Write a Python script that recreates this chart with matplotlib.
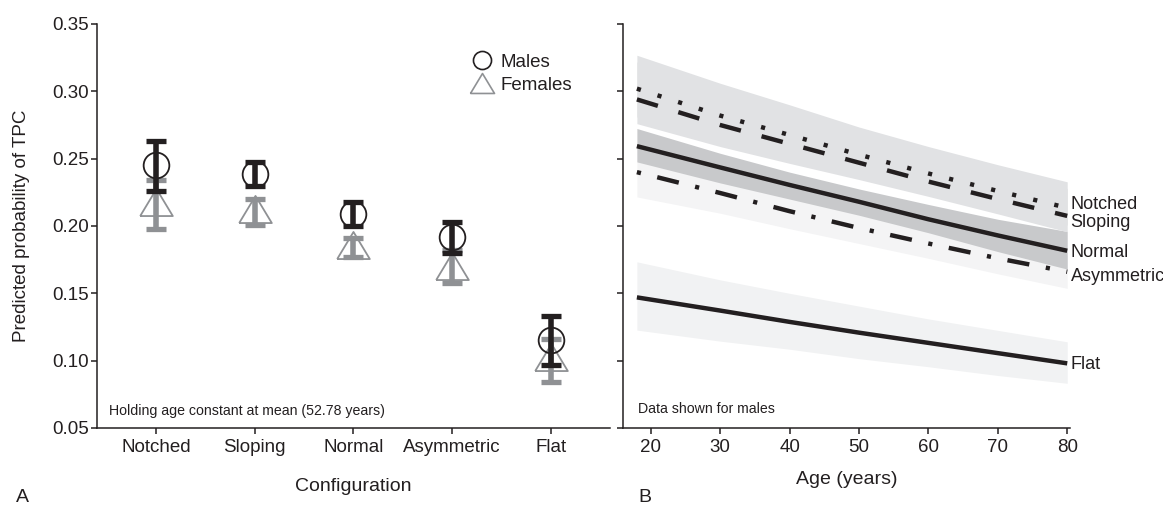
import matplotlib
matplotlib.use("Agg")
import matplotlib.pyplot as plt
from matplotlib.lines import Line2D
import numpy as np

plt.rcParams['font.family'] = ['Liberation Sans', 'DejaVu Sans']
plt.rcParams['lines.scale_dashes'] = False

# ---------------- Panel A data ----------------
configs = ["Notched", "Sloping", "Normal", "Asymmetric", "Flat"]
male_est = [0.245, 0.2385, 0.209, 0.192, 0.1155]
male_lo = [0.226, 0.2298, 0.200, 0.180, 0.097]
male_hi = [0.2633, 0.2476, 0.218, 0.203, 0.1331]
female_est = [0.218, 0.2125, 0.186, 0.170, 0.1025]
female_lo = [0.1979, 0.2009, 0.1771, 0.1578, 0.0841]
female_hi = [0.234, 0.220, 0.1912, 0.182, 0.1158]

# ---------------- Panel B data (males) ----------------
ages = [18, 30, 40, 50, 60, 70, 80]
notched_p = [0.302, 0.282, 0.2676, 0.253, 0.239, 0.226, 0.2135]
notched_hi = [0.3268, 0.306, 0.290, 0.2735, 0.259, 0.2455, 0.2328]
notched_lo = [0.281, 0.264, 0.2515, 0.2395, 0.227, 0.214, 0.2007]
sloping_p = [0.294, 0.275, 0.261, 0.247, 0.233, 0.220, 0.2075]
sloping_hi = [0.3218, 0.301, 0.285, 0.2685, 0.254, 0.2405, 0.2278]
sloping_lo = [0.276, 0.259, 0.2465, 0.2345, 0.222, 0.209, 0.1957]
normal_p = [0.2593, 0.2435, 0.2305, 0.218, 0.205, 0.193, 0.1816]
normal_hi = [0.2724, 0.254, 0.240, 0.2275, 0.216, 0.205, 0.196]
normal_lo = [0.2476, 0.232, 0.220, 0.208, 0.195, 0.181, 0.168]
asym_p = [0.240, 0.2245, 0.211, 0.1985, 0.187, 0.176, 0.166]
asym_hi = [0.2584, 0.241, 0.227, 0.212, 0.199, 0.187, 0.178]
asym_lo = [0.2216, 0.2095, 0.198, 0.187, 0.176, 0.1645, 0.1537]
flat_p = [0.147, 0.1372, 0.1288, 0.1208, 0.1132, 0.1056, 0.098]
flat_hi = [0.1734, 0.160, 0.150, 0.1405, 0.131, 0.1225, 0.114]
flat_lo = [0.1227, 0.1145, 0.1085, 0.1015, 0.0955, 0.089, 0.0832]

yticks = [0.05, 0.10, 0.15, 0.20, 0.25, 0.30, 0.35]
ytick_labels = ["0.05", "0.10", "0.15", "0.20", "0.25", "0.30", "0.35"]
age_ticks = [20, 30, 40, 50, 60, 70, 80]

BLACK = '#231f20'
GRAY = '#8f9194'

W, H = 1163, 505
fig = plt.figure(figsize=(W / 100, H / 100), dpi=100)
axA = fig.add_axes([96.7 / W, 1 - 428 / H, (610 - 96.7) / W, 404 / H])
axB = fig.add_axes([623 / W, 1 - 428 / H, (1070 - 623) / W, 404 / H])

for ax in (axA, axB):
    ax.spines['top'].set_visible(False)
    ax.spines['right'].set_visible(False)
    for s in ('left', 'bottom'):
        ax.spines[s].set_linewidth(1.1)
        ax.spines[s].set_color(BLACK)
    ax.tick_params(direction='out', length=4, width=1.1, color=BLACK,
                   labelsize=13.5, labelcolor=BLACK)
    ax.set_ylim(0.05, 0.35)
    ax.set_yticks(yticks)

# ---------------- Panel A ----------------
x = np.arange(len(configs))
tri = [(-1, -0.83), (1, -0.83), (0, 0.83), (-1, -0.83)]

f_err = [np.array(female_est) - np.array(female_lo), np.array(female_hi) - np.array(female_est)]
m_err = [np.array(male_est) - np.array(male_lo), np.array(male_hi) - np.array(male_est)]

axA.errorbar(x, female_est, yerr=f_err, fmt='none', ecolor=GRAY, elinewidth=4.0,
             capsize=7.2, capthick=3.8, zorder=2)
axA.plot(x, female_est, ls='none', marker=tri, ms=23.5, mfc='none', mec=GRAY,
         mew=1.3, zorder=3)
axA.errorbar(x, male_est, yerr=m_err, fmt='none', ecolor=BLACK, elinewidth=4.0,
             capsize=7.2, capthick=3.8, zorder=4)
axA.plot(x, male_est, ls='none', marker='o', ms=18.5, mfc='none', mec=BLACK,
         mew=1.3, zorder=5)

axA.set_xlim(-0.6, 4.6)
axA.set_xticks(x)
axA.set_xticklabels(configs)
axA.set_yticklabels(ytick_labels)
axA.tick_params(axis='y', pad=1.5)
axA.tick_params(axis='x', pad=4)
axA.set_xlabel("Configuration", fontsize=14, labelpad=15.5, color=BLACK)
axA.set_ylabel("Predicted probability of TPC", fontsize=13.5, labelpad=16, color=BLACK)
axA.text(0.024, 0.042, "Holding age constant at mean (52.78 years)", transform=axA.transAxes,
         fontsize=10.2, va='center', ha='left', color=BLACK)

handles = [Line2D([], [], ls='none', marker='o', ms=13, mfc='none', mec=BLACK, mew=1.2),
           Line2D([], [], ls='none', marker=tri, ms=17.3, mfc='none', mec=GRAY, mew=1.2)]
axA.legend(handles, ["Males", "Females"], loc='center', bbox_to_anchor=(0.83, 0.877),
           frameon=False, fontsize=13.5, handlelength=1.0, handletextpad=0.5,
           labelspacing=0.32, borderpad=0, labelcolor=BLACK)

# ---------------- Panel B ----------------
axB.fill_between(ages, asym_lo, asym_hi, color='#f4f4f5', lw=0, zorder=1)
axB.fill_between(ages, flat_lo, flat_hi, color='#f1f2f3', lw=0, zorder=1)
axB.fill_between(ages, normal_lo, normal_hi, color='#c8c9cb', lw=0, zorder=2)
axB.fill_between(ages, notched_lo, notched_hi, color='#e1e2e4', lw=0, zorder=2)
axB.fill_between(ages, sloping_lo, sloping_hi, color='#e1e2e4', lw=0, zorder=2)

lw = 3.2
axB.plot(ages, notched_p, color=BLACK, lw=lw, dashes=(3.0, 12.6), dash_capstyle='butt', zorder=4)
axB.plot(ages, sloping_p, color=BLACK, lw=lw, dashes=(15.8, 15.4), dash_capstyle='butt', zorder=4)
axB.plot(ages, normal_p, color=BLACK, lw=lw, solid_capstyle='butt', zorder=4)
axB.plot(ages, asym_p, color=BLACK, lw=lw, dashes=(3.0, 12.1, 16, 12.1), dash_capstyle='butt', zorder=4)
axB.plot(ages, flat_p, color=BLACK, lw=lw, solid_capstyle='butt', zorder=4)

series_end = {"Notched": notched_p[-1], "Sloping": sloping_p[-1], "Normal": normal_p[-1],
              "Asymmetric": asym_p[-1], "Flat": flat_p[-1]}
nudge = {"Notched": 0.0033, "Sloping": -0.0036, "Normal": 0.0, "Asymmetric": -0.002, "Flat": 0.0}
for name, yend in series_end.items():
    axB.text(ages[-1] + 0.5, yend - 0.0045 + nudge[name], name, fontsize=13, va='baseline',
             ha='left', color=BLACK, clip_on=False)

axB.set_xlim(16, 80.4)
axB.set_xticks(age_ticks)
axB.set_yticklabels([])
axB.tick_params(axis='x', pad=4)
axB.set_xlabel("Age (years)", fontsize=14, labelpad=11, color=BLACK)
axB.text(0.034, 0.047, "Data shown for males", transform=axB.transAxes,
         fontsize=10.2, va='center', ha='left', color=BLACK)

fig.text(16 / W, 1 - 502 / H, "A", fontsize=14, va='baseline', ha='left', color=BLACK)
fig.text(638 / W, 1 - 502 / H, "B", fontsize=14, va='baseline', ha='left', color=BLACK)

fig.savefig("out.png", dpi=100)
